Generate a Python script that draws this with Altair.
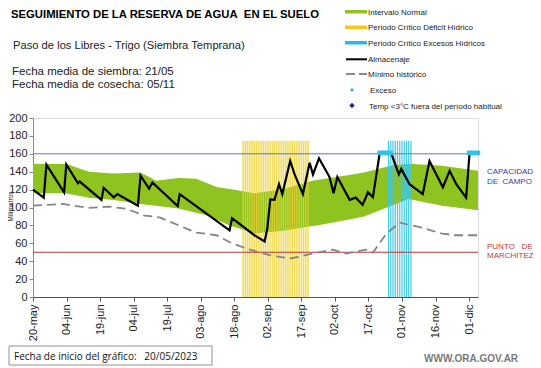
import json
import altair as alt
import pandas as pd
import numpy as np

FONT = "Liberation Sans"
OX, OY = 33, 118          # plot origin in page pixels (used for annotations only)
W, H = 445, 179

# ---------------- data (day offset from 20/05/2023) ----------------
alm_dia = [0, 4.8, 6, 13.9, 14.9, 20.1, 20.9, 30.6, 31.6, 36.1, 37.7, 46.9, 48.1, 51.9, 53.4,
           64.7, 65.6, 87.9, 89, 99, 103.6, 104.8, 106.1, 108, 110, 111.5, 115, 117, 120.7,
           123.7, 125.2, 127.9, 132.6, 134.4, 136.1, 141.6, 144.3, 147.4, 149.8, 152, 155,
           160.3, 163.6, 164.7, 168.4, 174.3, 177.3, 183.3, 186.3, 189.3, 193.7, 195.2, 198.8]
alm_mm = [120, 111, 148, 117, 148, 127, 129, 108.5, 122, 111.5, 115, 102, 135.5, 121, 128,
          101.5, 115, 74.4, 88, 69, 62, 77, 109, 108.5, 126, 115, 152, 137, 115,
          150, 137, 155, 134, 116, 134, 108.5, 111, 103, 117, 111.5, 160,
          160, 137, 143, 126, 115, 152, 122.6, 141, 126, 111, 160, 160]

banda_sup_dia = [0, 15, 25, 36, 48, 52, 55, 65, 73, 82, 92, 99, 111, 125, 148, 160, 168, 183, 199]
banda_sup_mm = [149, 148.5, 140, 138, 139, 134, 130, 133, 132, 123, 119, 116, 120, 130, 139, 146.7, 149, 146.7, 141]
banda_inf_dia = [0, 14, 25, 36, 48, 65, 78, 88, 99, 112, 127, 142, 148, 168, 183, 199]
banda_inf_mm = [116, 116, 111, 108.5, 104, 99, 91, 80, 71, 74, 80, 87, 90, 109.6, 102, 97]

min_dia = [0, 13.4, 24.5, 34.3, 41.8, 49.9, 56.6, 70, 73, 82, 89, 97, 105.8, 114.8, 119.2,
           123.7, 134, 140, 149, 152, 158, 164, 173, 183, 189, 195, 199]
min_mm = [102, 104, 99.6, 101, 98.5, 91, 89, 75, 72, 69, 60, 53, 46.7, 43, 45,
          48, 53, 48.5, 53, 49.6, 70.7, 83, 78, 70.7, 69, 69, 69]

deficit_dias = list(range(94, 124))
exceso_periodo_dias = list(range(159, 170))
periodo_tope_mm = 174.5
exceso_dias = [155, 156, 157, 158, 159, 160, 195, 196, 197, 198, 199]
exceso_mm = 161
capacidad_campo = 160
punto_marchitez = 50

tick_dias = list(range(0, 196, 15))
tick_labels = ["20-may", "04-jun", "19-jun", "04-jul", "19-jul", "03-ago", "18-ago",
               "02-sep", "17-sep", "02-oct", "17-oct", "01-nov", "16-nov", "01-dic"]
y_ticks = list(range(0, 201, 20))

# ---------------- frames ----------------
band_days = sorted(set(banda_sup_dia) | set(banda_inf_dia))
band = pd.DataFrame({
    "dia": band_days,
    "sup": np.interp(band_days, banda_sup_dia, banda_sup_mm),
    "inf": np.interp(band_days, banda_inf_dia, banda_inf_mm),
})
alm = pd.DataFrame({"dia": alm_dia, "mm": alm_mm})
mn = pd.DataFrame({"dia": min_dia, "mm": min_mm})
deficit = pd.DataFrame({"dia": deficit_dias, "bot": 0, "top": periodo_tope_mm})
excper = pd.DataFrame({"dia": exceso_periodo_dias, "bot": 0, "top": periodo_tope_mm})
exceso = pd.DataFrame({"dia": exceso_dias, "mm": exceso_mm})
refs = pd.DataFrame({"v": [capacidad_campo, punto_marchitez], "c": ["cc", "pm"],
                     "dia": 0, "dia2": 199})
deficit_bg_df = pd.DataFrame({"dia": [deficit_dias[0] - 0.5], "dia2": [deficit_dias[-1] + 0.5],
                              "bot": [0], "top": [periodo_tope_mm]})

XSC = alt.Scale(domain=[0, 199], nice=False, zero=False)
label_expr = json.dumps(tick_labels) + "[round(datum.value/15)]"
XAX = alt.Axis(values=tick_dias, labelExpr=label_expr, labelAngle=-90,
               labelFontSize=11, labelColor="#222", labelFont=FONT,
               labelOverlap=False, labelFlush=False,
               grid=False, domainColor="#555", tickColor="#555", tickSize=4,
               labelPadding=3, title=None)
YSC = alt.Scale(domain=[0, 200], nice=False)
YAX = alt.Axis(values=y_ticks, labelFontSize=11, labelColor="#222", labelFont=FONT,
               labelOverlap=False, labelFlush=False,
               grid=False, domainColor="#888", tickColor="#888", tickSize=4,
               title="Milímetros", titleFontSize=6.5, titleFont=FONT, titleFontWeight="normal",
               titleX=-23, titleY=88, titleBaseline="middle", titleColor="#222")

def X(field="dia:Q"):
    return alt.X(field, scale=XSC, axis=XAX)

def Y(field):
    return alt.Y(field, scale=YSC, axis=YAX)

deficit_bg = alt.Chart(deficit_bg_df).mark_rect(color="#fbf4c4").encode(
    x=X(), x2="dia2:Q", y=Y("bot:Q"), y2="top:Q")

band_l = alt.Chart(band).mark_area(color="#8fc31f", opacity=1).encode(
    x=X(), y=Y("inf:Q"), y2="sup:Q")

deficit_l = alt.Chart(deficit).mark_rule(color="#ecd43c", strokeWidth=1.2, opacity=0.8).encode(
    x=X(), y=Y("bot:Q"), y2="top:Q")

exc_l = alt.Chart(excper).mark_rule(color="#3cc6e8", strokeWidth=1.2, opacity=0.95).encode(
    x=X(), y=Y("bot:Q"), y2="top:Q")

refs_l = alt.Chart(refs).mark_rule(strokeWidth=1).encode(
    x=X(), x2="dia2:Q", y=Y("v:Q"),
    color=alt.Color("c:N", scale=alt.Scale(domain=["cc", "pm"], range=["#5a7bbf", "#b23a3a"]),
                    legend=None))

min_l = alt.Chart(mn).mark_line(color="#858585", strokeWidth=1.8, strokeDash=[9, 5]).encode(
    x=X(), y=Y("mm:Q"))

alm_l = alt.Chart(alm).mark_line(color="#000000", strokeWidth=2.2).encode(x=X(), y=Y("mm:Q"))

exc_pts = alt.Chart(exceso).mark_square(color="#35c0e6", size=20, opacity=1).encode(
    x=X(), y=Y("mm:Q"))

# ---------------- annotations (page coordinates) ----------------
one = pd.DataFrame({"t": [""]})

def txt(s, x, y, size, color="#000", weight="normal", align="left", font=FONT, lh=None):
    kw = dict(align=align, baseline="alphabetic", fontSize=size, font=font,
              fontWeight=weight, color=color)
    if lh:
        kw["lineHeight"] = lh
        kw["lineBreak"] = "\n"
    return alt.Chart(pd.DataFrame({"t": [s]})).mark_text(**kw).encode(
        x=alt.value(x - OX), y=alt.value(y - OY), text="t:N")

def rect(x0, x1, y0, y1, fill, stroke=None):
    kw = dict(color=fill)
    if stroke:
        kw = dict(fill=fill, stroke=stroke, strokeWidth=1)
    return alt.Chart(one).mark_rect(**kw).encode(
        x=alt.value(x0 - OX), x2=alt.value(x1 - OX), y=alt.value(y0 - OY), y2=alt.value(y1 - OY))

def hline(x0, x1, y, color, width, dash=None):
    kw = dict(color=color, strokeWidth=width)
    if dash:
        kw["strokeDash"] = dash
    return alt.Chart(one).mark_rule(**kw).encode(
        x=alt.value(x0 - OX), x2=alt.value(x1 - OX), y=alt.value(y - OY))

def pt(x, y, shape, color, size):
    return alt.Chart(one).mark_point(shape=shape, filled=True, color=color, size=size, opacity=1).encode(
        x=alt.value(x - OX), y=alt.value(y - OY))

NB = "\u00a0"
ann = [
    txt("SEGUIMIENTO DE LA RESERVA DE AGUA" + NB + NB + "EN EL SUELO", 11, 18, 11.3, weight="bold"),
    txt("Paso de los Libres - Trigo (Siembra Temprana)", 13, 49, 11.2, color="#222"),
    txt("Fecha media de siembra: 21/05", 12, 75, 11.5, color="#222"),
    txt("Fecha media de cosecha: 05/11", 12, 87.5, 11.5, color="#222"),
    # legend
    rect(345, 367, 10, 13.5, "#8fc31f"),
    txt("Intervalo Normal", 368, 14.5, 8, color="#222"),
    rect(345, 367, 25.5, 29, "#f4c51f"),
    txt("Periodo Crítico Déficit Hídrico", 368, 30, 8, color="#222"),
    rect(345, 367, 41, 44.5, "#2ab7e8"),
    txt("Periodo Crítico Excesos Hídricos", 368, 45.5, 8, color="#222"),
    hline(346, 367, 59.3, "#000", 2),
    txt("Almacenaje", 368, 62.3, 8, color="#222"),
    hline(346, 367, 74, "#8a8a8a", 1.8, dash=[9, 4]),
    txt("Mínimo histórico", 368, 77, 8, color="#222"),
    pt(352, 90, "square", "#2ab0d8", 8),
    txt("Exceso", 370, 93, 8, color="#222"),
    pt(352, 105.5, "diamond", "#1f2a9c", 30),
    txt("Temp <3°C fuera del período habitual", 369, 108.5, 8, color="#222"),
    # reference labels
    txt("CAPACIDAD\nDE" + NB + NB + "CAMPO", 487, 174, 8, color="#3a3ab0", lh=9.5),
    txt("PUNTO" + NB + NB + NB + "DE\nMARCHITEZ", 487, 248.5, 8, color="#c43a3a", lh=9.5),
    # bottom
    rect(9, 212, 346, 365, "#ffffff", stroke="#9c8a9a"),
    txt("Fecha de inicio del gráfico:" + NB + NB + NB + "20/05/2023", 14, 359.5, 10, color="#111",
        font="Open Sans"),
    txt("WWW.ORA.GOV.AR", 424, 362, 10, color="#7a7a7a", weight="bold"),
]

chart = alt.layer(
    deficit_bg, band_l, deficit_l, exc_l, refs_l, min_l, alm_l, exc_pts, *ann
).properties(
    width=W, height=H,
    autosize=alt.AutoSizeParams(type="none"),
    padding={"left": OX - 8, "top": OY - 8, "right": 525 - (OX - 8) - W,
             "bottom": 368 - OY - H},
).configure_view(stroke=None).configure(background="white")

chart.save("out.html", embed_options={"renderer": "svg", "actions": False})
